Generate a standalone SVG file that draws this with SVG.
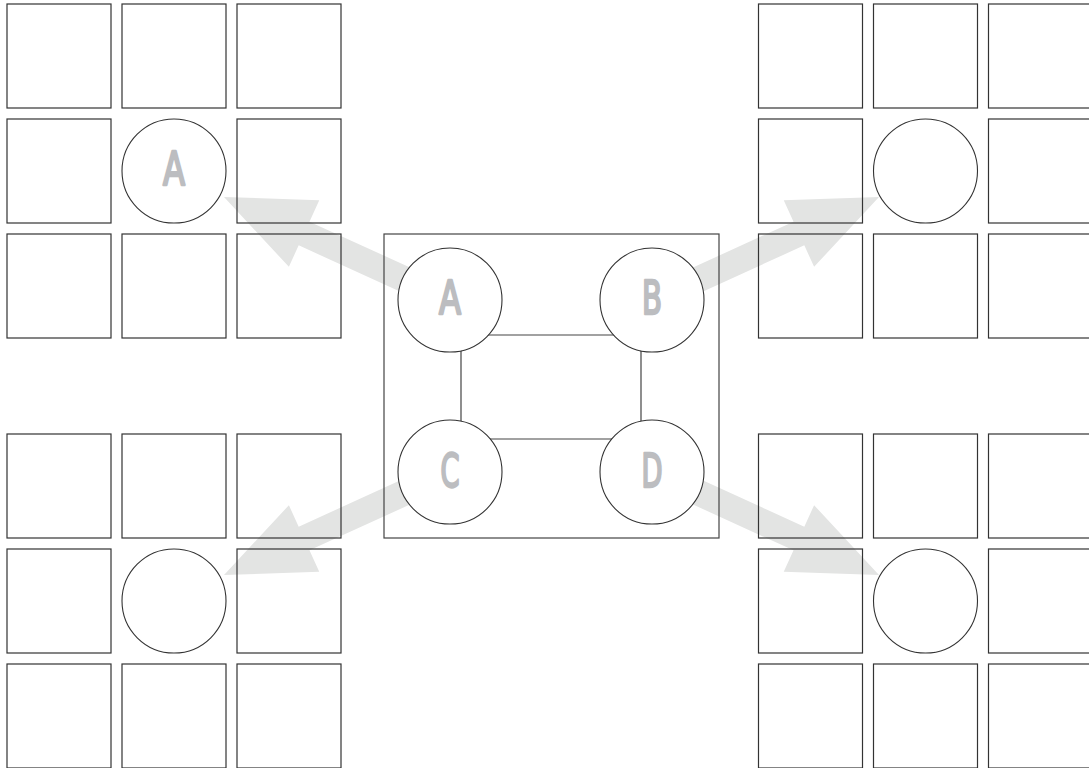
<svg xmlns="http://www.w3.org/2000/svg" width="1089" height="768" viewBox="0 0 1089 768">
<defs>
<style>
.sq{fill:none;stroke:#333;stroke-width:1.2}
.cir{fill:#fff;stroke:#333;stroke-width:1.1}
.box{fill:none;stroke:#444;stroke-width:1.2}
.ln{fill:none;stroke:#444;stroke-width:1.2}
.arr{fill:#e3e4e3}
.lbl{font-family:"DejaVu Sans Condensed","DejaVu Sans",sans-serif;font-stretch:condensed;font-weight:normal;font-size:46px;fill:#bcbdc0;stroke:#bcbdc0;stroke-width:2.4;stroke-linejoin:round;text-anchor:middle}
</style>
<polygon id="arrowShape" class="arr" points="0,0 88,-36.6 88,-13 248,-13 248,13 88,13 88,36.6"/>
<g id="grid9">
<rect class="sq" x="0" y="0" width="104" height="104"/>
<rect class="sq" x="115" y="0" width="104" height="104"/>
<rect class="sq" x="230" y="0" width="104" height="104"/>
<rect class="sq" x="0" y="115" width="104" height="104"/>
<rect class="sq" x="230" y="115" width="104" height="104"/>
<rect class="sq" x="0" y="230" width="104" height="104"/>
<rect class="sq" x="115" y="230" width="104" height="104"/>
<rect class="sq" x="230" y="230" width="104" height="104"/>
<circle class="cir" cx="167" cy="167" r="52"/>
</g>
</defs>
<rect width="1089" height="768" fill="#fff"/>
<g id="connectors">
<use href="#arrowShape" transform="translate(224,197) rotate(24.5)"/>
<use href="#arrowShape" transform="translate(1103,0) scale(-1,1) translate(224,197) rotate(24.5)"/>
<use href="#arrowShape" transform="translate(0,772) scale(1,-1) translate(224,197) rotate(24.5)"/>
<use href="#arrowShape" transform="translate(1103,772) scale(-1,-1) translate(224,197) rotate(24.5)"/>
<line class="ln" x1="461" y1="335" x2="641" y2="335"/>
<line class="ln" x1="461" y1="439" x2="641" y2="439"/>
<line class="ln" x1="461" y1="335" x2="461" y2="439"/>
<line class="ln" x1="641" y1="335" x2="641" y2="439"/>
</g>
<g id="center-box"><rect class="box" x="384" y="234" width="335" height="304"/></g>
<g id="node-A"><circle class="cir" cx="450" cy="300" r="52"/><text class="lbl" x="450" y="314" textLength="22" lengthAdjust="spacingAndGlyphs">A</text></g>
<g id="node-B"><circle class="cir" cx="652" cy="300" r="52"/><text class="lbl" x="652" y="314" textLength="20" lengthAdjust="spacingAndGlyphs">B</text></g>
<g id="node-C"><circle class="cir" cx="450" cy="472" r="52"/><text class="lbl" x="450" y="487" textLength="19" lengthAdjust="spacingAndGlyphs">C</text></g>
<g id="node-D"><circle class="cir" cx="652" cy="472" r="52"/><text class="lbl" x="652" y="487" textLength="21" lengthAdjust="spacingAndGlyphs">D</text></g>
<g id="grid-top-left"><use href="#grid9" transform="translate(7,4)"/><text class="lbl" x="174" y="185" textLength="22" lengthAdjust="spacingAndGlyphs">A</text></g>
<g id="grid-top-right"><use href="#grid9" transform="translate(758.5,4)"/></g>
<g id="grid-bottom-left"><use href="#grid9" transform="translate(7,434)"/></g>
<g id="grid-bottom-right"><use href="#grid9" transform="translate(758.5,434)"/></g>
</svg>
